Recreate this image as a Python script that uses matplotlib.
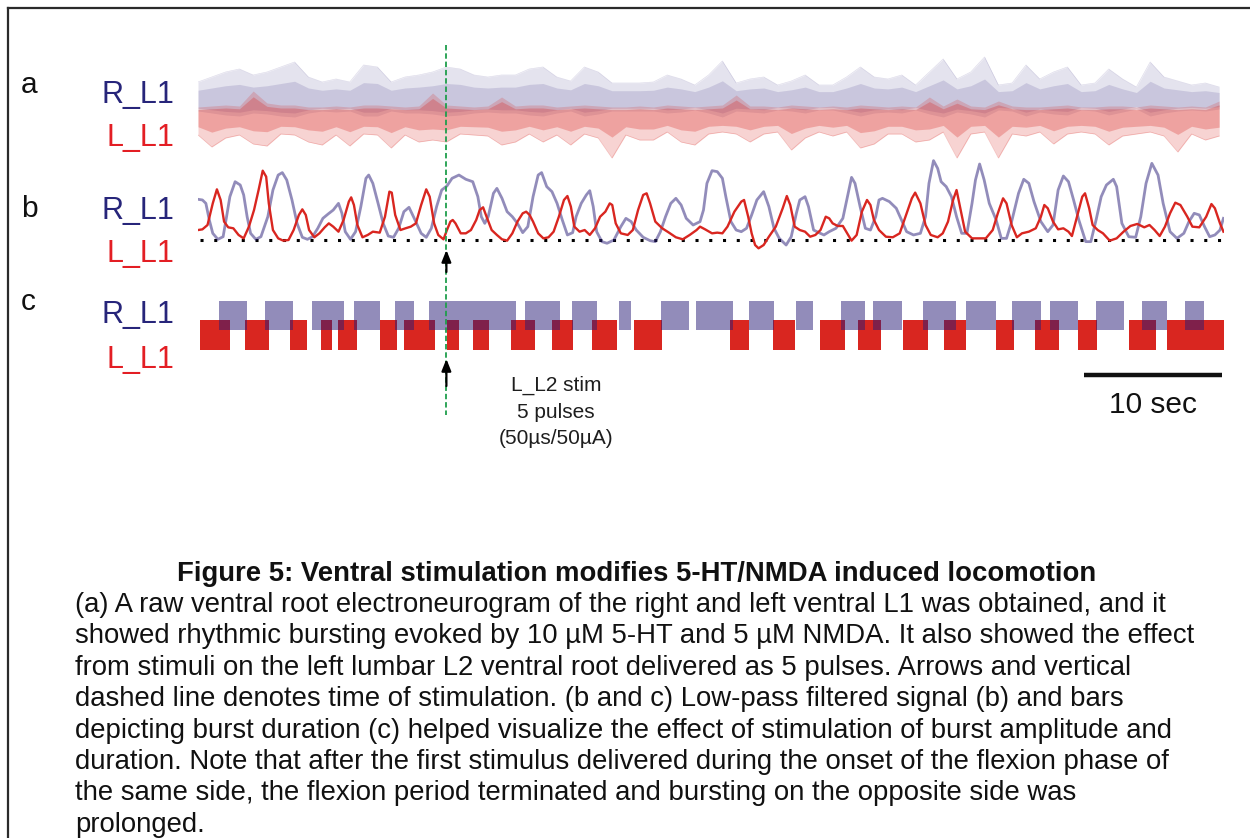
import matplotlib

matplotlib.use("Agg")

import matplotlib.pyplot as plt
import numpy as np
from matplotlib.lines import Line2D


FIG_W = 1250
FIG_H = 838

NAVY = "#271b77"
RED = "#d92620"
LABEL_NAVY = "#27257a"
LABEL_RED = "#e31e24"
STIM_GREEN = "#1f9e4c"

# time axis of all three panels, seconds
T_END = 74.35
STIM_TIME = 18.0
SCALE_BAR = (64.2, 74.2)

# panel a: raw ENG, envelope read per 1 s bin (px above / below trace centre)
RAW_T = np.arange(75)
R_RAW_UP = np.array([
    15, 20, 25, 28, 22, 25, 30, 35, 20, 15, 18, 15, 32, 30, 15,
    20, 22, 25, 30, 28, 22, 20, 22, 22, 28, 30, 20, 16, 30, 25,
    14, 14, 14, 15, 22, 18, 12, 22, 36, 14, 18, 20, 12, 16, 22,
    12, 12, 20, 30, 20, 18, 22, 12, 25, 38, 18, 25, 40, 12, 14,
    32, 18, 25, 30, 12, 14, 28, 18, 10, 35, 20, 16, 12, 14, 10,
])
R_RAW_DN = np.array([
    14, 16, 18, 19, 16, 17, 19, 20, 16, 14, 15, 14, 19, 19, 14,
    16, 16, 17, 19, 18, 16, 15, 16, 16, 18, 19, 16, 14, 19, 17,
    14, 14, 14, 14, 16, 15, 13, 16, 20, 14, 15, 16, 13, 14, 16,
    13, 13, 16, 19, 16, 15, 16, 13, 17, 20, 15, 17, 20, 13, 14,
    19, 15, 17, 18, 13, 14, 18, 15, 12, 19, 16, 14, 13, 14, 12,
])
L_RAW_UP = np.array([
    13, 14, 15, 14, 29, 17, 15, 15, 13, 13, 14, 13, 15, 15, 14,
    13, 14, 27, 15, 14, 13, 14, 23, 14, 15, 15, 13, 14, 15, 14,
    13, 13, 14, 13, 15, 14, 13, 14, 15, 25, 14, 14, 13, 15, 14,
    13, 14, 13, 15, 14, 13, 14, 13, 23, 14, 21, 14, 13, 19, 14,
    13, 13, 14, 15, 13, 13, 14, 14, 13, 15, 14, 13, 14, 13, 19,
])
L_RAW_DN = np.array([
    15, 27, 18, 15, 24, 26, 14, 15, 22, 25, 15, 26, 14, 15, 28,
    15, 22, 20, 22, 14, 15, 16, 25, 22, 14, 22, 15, 25, 14, 18,
    38, 15, 20, 20, 12, 22, 25, 14, 12, 14, 22, 14, 12, 30, 18,
    12, 16, 12, 28, 24, 14, 14, 22, 20, 12, 38, 14, 12, 38, 14,
    16, 12, 24, 14, 12, 14, 25, 16, 14, 12, 16, 32, 14, 20, 16,
])

# panel b: low-pass filtered signals (time s, amplitude a.u.)
R_FILT_T = [
    0.0, 0.32, 0.57, 0.82, 1.07, 1.44, 1.82, 2.07, 2.31, 2.69, 3.06, 3.31,
    3.56, 3.81, 4.19, 4.56, 5.06, 5.43, 5.81, 6.11, 6.43, 6.81, 7.18, 7.56,
    7.93, 8.30, 8.68, 9.05, 9.43, 9.80, 10.18, 10.43, 10.67, 11.05, 11.42,
    11.80, 12.17, 12.37, 12.67, 13.05, 13.42, 13.79, 14.17, 14.54, 14.92,
    15.29, 15.67, 16.17, 16.54, 16.91, 17.29, 17.66, 18.04, 18.41, 18.91,
    19.41, 19.91, 20.28, 20.53, 20.78, 21.03, 21.41, 21.66, 22.03, 22.40,
    22.78, 23.15, 23.53, 23.90, 24.28, 24.65, 24.90, 25.27, 25.65, 26.02,
    26.40, 26.77, 27.15, 27.40, 27.77, 28.14, 28.39, 28.64, 28.89, 29.27,
    29.64, 30.14, 30.64, 31.01, 31.39, 31.76, 32.26, 32.76, 33.14, 33.51,
    33.88, 34.26, 34.63, 35.01, 35.38, 35.88, 36.38, 36.63, 36.88, 37.25,
    37.63, 38.00, 38.25, 38.62, 39.00, 39.37, 39.75, 40.12, 40.50, 40.99,
    41.37, 41.74, 42.12, 42.62, 42.99, 43.36, 43.61, 43.99, 44.24, 44.61,
    44.99, 45.36, 45.74, 46.23, 46.73, 47.11, 47.36, 47.61, 47.98, 48.36,
    48.73, 49.11, 49.35, 49.60, 50.10, 50.60, 50.98, 51.35, 51.85, 52.35,
    52.72, 52.97, 53.30, 53.60, 53.85, 54.22, 54.60, 54.97, 55.34, 55.72,
    56.09, 56.34, 56.64, 56.97, 57.34, 57.84, 58.21, 58.59, 58.96, 59.46,
    59.84, 60.21, 60.58, 61.08, 61.58, 61.96, 62.33, 62.71, 63.08, 63.45,
    63.83, 64.33, 64.70, 65.08, 65.45, 65.83, 66.33, 66.57, 66.95, 67.45,
    67.95, 68.32, 68.70, 69.12, 69.57, 69.94, 70.44, 70.94, 71.44, 71.81,
    72.19, 72.56, 72.94, 73.31, 73.69, 74.06, 74.31,
]
R_FILT = [
    4.21, 4.14, 3.79, 2.07, 0.69, 0.07, 0.34, 2.41, 4.48, 6.03, 5.69, 4.66,
    2.41, 0.69, 0.07, 0.34, 2.41, 5.17, 6.72, 6.97, 6.21, 4.14, 1.72, 0.28,
    0.07, 0.34, 1.21, 2.24, 2.69, 3.10, 3.79, 2.76, 0.86, 0.07, 0.86,
    3.45, 6.38, 6.72, 5.86, 3.79, 1.72, 0.41, 0.28, 1.21, 2.93,
    3.38, 2.24, 0.69, 0.28, 1.21, 3.45, 5.17, 5.59, 6.38, 6.72,
    6.28, 6.03, 4.48, 2.41, 1.72, 2.41, 4.83, 5.34, 4.31, 2.93,
    2.41, 1.72, 0.76, 1.38, 4.48, 6.72, 6.97, 5.52, 5.00, 3.79,
    2.07, 0.52, 0.76, 2.41, 3.79, 4.66, 5.10, 3.45, 0.86, -0.17,
    -0.34, 0.0, 1.38, 2.24, 1.90, 1.03, 0.28, -0.07, -0.17, 0.86,
    2.41, 3.79, 4.31, 3.62, 2.24, 1.55, 1.90, 3.10, 5.86, 7.17,
    7.07, 6.38, 4.48, 1.90, 1.03, 0.86, 1.21, 2.59, 4.14, 5.00,
    3.45, 1.21, 0.17, -0.52, 0.34, 2.76, 4.14, 4.48, 3.45, 1.03,
    0.76, 0.52, 0.86, 1.21, 2.24, 4.83, 6.48, 5.86, 3.45, 1.21,
    1.03, 2.41, 4.14, 4.31, 3.97, 3.28, 2.07, 0.86, 0.52, 0.69,
    2.41, 5.86, 8.21, 7.41, 6.03, 5.52, 4.48, 2.41, 0.69, 0.69,
    3.79, 6.21, 7.86, 6.21, 3.79, 2.07, 0.17, 0.17, 1.90, 4.83,
    6.28, 5.86, 3.97, 1.90, 0.86, 1.55, 5.17, 6.62, 6.03, 4.14,
    2.07, -0.17, -0.17, 2.07, 4.48, 5.69, 6.28, 5.52, 1.72, 0.34,
    0.28, 2.41, 5.86, 7.93, 6.72, 3.79, 0.86, 0.17, 0.69, 1.90,
    2.76, 2.59, 1.38, 0.34, 0.52, 1.03, 2.24,
]
L_FILT_T = [
    0.0, 0.32, 0.69, 1.07, 1.37, 1.64, 1.89, 2.19, 2.56, 2.94, 3.31, 3.69,
    4.06, 4.39, 4.69, 4.94, 5.13, 5.43, 5.81, 6.18, 6.56, 6.93, 7.31, 7.56,
    7.81, 8.05, 8.43, 8.80, 9.18, 9.48, 9.80, 10.18, 10.55, 10.93, 11.10,
    11.30, 11.55, 11.92, 12.30, 12.67, 13.17, 13.55, 13.87, 14.04, 14.29,
    14.67, 15.04, 15.42, 15.79, 16.17, 16.54, 16.79, 17.11, 17.41, 17.79,
    18.04, 18.29, 18.46, 18.66, 19.04, 19.41, 19.78, 20.16, 20.41, 20.66,
    20.91, 21.28, 21.66, 22.03, 22.40, 22.78, 23.15, 23.53, 23.78, 24.03,
    24.28, 24.65, 25.03, 25.40, 25.77, 26.15, 26.52, 26.77, 27.02, 27.27,
    27.65, 28.02, 28.39, 28.77, 29.14, 29.52, 29.84, 30.02, 30.27, 30.64,
    31.14, 31.51, 31.89, 32.26, 32.51, 32.76, 33.14, 33.64, 34.13, 34.63,
    35.13, 35.63, 36.13, 36.38, 36.75, 37.25, 37.63, 38.00, 38.37, 38.87,
    39.37, 39.57, 39.87, 40.12, 40.37, 40.62, 40.99, 41.37, 41.87, 42.37,
    42.67, 42.92, 43.24, 43.61, 43.99, 44.36, 44.74, 45.11, 45.49, 45.74,
    45.99, 46.36, 46.73, 47.11, 47.36, 47.73, 48.11, 48.48, 48.73, 48.98,
    49.35, 49.85, 50.35, 50.85, 51.35, 51.73, 51.97, 52.35, 52.72, 53.10,
    53.60, 53.97, 54.35, 54.72, 54.97, 55.22, 55.59, 56.09, 56.59, 57.09,
    57.59, 57.96, 58.34, 58.59, 58.96, 59.34, 59.71, 60.21, 60.71, 61.08,
    61.33, 61.58, 61.96, 62.33, 62.71, 63.08, 63.33, 63.70, 64.08, 64.28,
    64.58, 64.83, 65.20, 65.58, 66.07, 66.57, 67.07, 67.57, 68.07, 68.57,
    68.95, 69.32, 69.69, 70.07, 70.44, 70.82, 71.19, 71.69, 72.06, 72.56,
    73.06, 73.44, 73.69, 74.06, 74.31,
]
L_FILT = [
    1.03, 1.10, 1.55, 3.79, 5.24, 4.14, 1.90, 1.31, 1.21, 0.52, 0.17, 1.38,
    3.10, 5.17, 7.17, 6.55, 3.79, 1.03, 0.17, -0.07, 0.0, 1.03, 2.59, 3.17,
    2.59, 1.03, 0.28, 0.69, 1.31, 1.72, 1.38, 0.86, 2.07, 3.97, 4.41,
    3.62, 1.55, 0.28, 0.52, 0.86, 0.76, 2.41, 5.00, 4.90, 2.59,
    1.03, 1.21, 1.38, 1.72, 3.62, 5.24, 4.48, 1.72, 0.52, 0.07,
    1.03, 1.90, 2.07, 1.72, 0.69, 0.69, 1.03, 2.07, 3.10, 3.38,
    2.41, 1.03, 0.52, 0.07, -0.07, 0.69, 1.90, 2.76, 2.93, 2.59,
    1.90, 0.69, 0.17, 0.28, 0.86, 2.41, 4.14, 4.55, 3.45, 1.38,
    0.86, 1.03, 0.52, 1.21, 2.41, 2.93, 3.79, 3.62, 1.72, 0.69,
    0.52, 1.03, 3.10, 4.66, 4.83, 3.79, 1.90, 1.21, 0.76, 0.28,
    0.07, 0.52, 1.03, 1.38, 1.10, 0.69, 0.76, 0.69, 1.38, 2.93,
    3.97, 4.14, 2.41, 0.69, -0.52, -0.86, -0.52, 0.34, 1.38, 3.28,
    4.55, 3.62, 1.38, 1.03, 0.86, 0.34, 0.52, 1.03, 2.41, 2.24,
    1.72, 1.45, 1.45, 0.52, -0.07, 0.52, 2.93, 4.14, 3.62, 2.07,
    1.03, 0.34, 0.28, 0.69, 2.76, 4.31, 4.90, 3.79, 1.55, 0.52,
    0.28, 0.69, 1.90, 4.14, 5.17, 3.45, 0.86, 0.17, 0.17, 0.17,
    1.03, 2.76, 4.31, 3.79, 1.55, 0.28, 0.69, 0.86, 1.21, 2.41,
    3.62, 3.28, 1.90, 1.10, 1.21, 0.86, 0.41, 2.41, 4.48, 4.83,
    3.28, 1.55, 1.03, 0.69, -0.07, 0.17, 0.86, 1.45, 1.66, 1.31,
    1.55, 1.03, 0.41, 1.38, 2.76, 3.86, 3.62, 2.41, 1.38, 1.31,
    2.41, 3.72, 3.28, 1.72, 0.86,
]

# panel c: burst durations (start s, end s)
R_BURSTS = [
    (1.51, 3.54), (4.83, 6.86), (8.28, 10.55), (11.30, 13.20),
    (14.29, 15.67), (16.71, 23.03), (23.67, 26.22), (27.07, 28.89),
    (30.51, 31.36), (33.54, 35.58), (36.08, 38.75), (39.92, 41.74),
    (43.31, 44.54), (46.56, 48.30), (48.91, 51.05), (52.52, 54.92),
    (55.64, 57.81), (58.96, 61.06), (61.73, 63.75), (65.07, 67.07),
    (68.39, 70.22), (71.51, 72.88),
]
L_BURSTS = [
    (0.14, 2.34), (3.43, 5.14), (6.68, 7.91), (8.88, 9.70),
    (10.15, 11.50), (13.17, 14.39), (14.94, 17.14), (18.04, 18.91),
    (19.91, 21.06), (22.65, 24.40), (25.67, 27.20), (28.57, 30.34),
    (31.59, 33.61), (38.52, 39.94), (41.64, 43.29), (45.09, 46.86),
    (47.83, 49.48), (51.12, 52.92), (54.04, 55.64), (57.81, 59.14),
    (60.66, 62.36), (63.75, 65.15), (67.45, 69.39), (70.24, 74.36),
]

PANEL_LETTERS = ["a", "b", "c"]
CHANNELS = ["R_L1", "L_L1"]
STIM_LINES = ["L_L2 stim", "5 pulses", "(50\u00b5s/50\u00b5A)"]
SCALE_LABEL = "10 sec"

TITLE = "Figure 5: Ventral stimulation modifies 5-HT/NMDA induced locomotion"
CAPTION_LINES = [
    "(a) A raw ventral root electroneurogram of the right and left ventral L1 was obtained, and it",
    "showed rhythmic bursting evoked by 10 \u00b5M 5-HT and 5 \u00b5M NMDA. It also showed the effect",
    "from stimuli on the left lumbar L2 ventral root delivered as 5 pulses. Arrows and vertical",
    "dashed line denotes time of stimulation. (b and c) Low-pass filtered signal (b) and bars",
    "depicting burst duration (c) helped visualize the effect of stimulation of burst amplitude and",
    "duration. Note that after the first stimulus delivered during the onset of the flexion phase of",
    "the same side, the flexion period terminated and bursting on the opposite side was",
    "prolonged.",
]


def fx(x):
    return x / FIG_W


def fy(y):
    return 1 - y / FIG_H


def panel_axes(fig, top, bottom):
    ax = fig.add_axes([fx(198), fy(bottom), fx(1224) - fx(198), (bottom - top) / FIG_H])
    ax.set_xlim(0, T_END)
    ax.axis("off")
    return ax


def draw_raw(ax):
    r_centre = 73
    l_centre = 50
    ax.set_ylim(0, 130)
    ax.fill_between(RAW_T, r_centre - R_RAW_DN, r_centre + R_RAW_UP,
                    color=NAVY, alpha=0.12, lw=0)
    ax.fill_between(RAW_T, r_centre - R_RAW_DN * 0.8, r_centre + R_RAW_UP * 0.45,
                    color=NAVY, alpha=0.14, lw=0)
    ax.plot(RAW_T, r_centre + R_RAW_UP, color=NAVY, alpha=0.15, lw=0.5)

    ax.fill_between(RAW_T, l_centre - L_RAW_DN, l_centre + L_RAW_UP,
                    color=RED, alpha=0.2, lw=0)
    ax.fill_between(RAW_T, l_centre - L_RAW_DN * 0.45, l_centre + L_RAW_UP * 0.8,
                    color=RED, alpha=0.28, lw=0)
    ax.plot(RAW_T, l_centre - L_RAW_DN, color=RED, alpha=0.25, lw=0.5)


def draw_filtered(ax):
    ax.set_ylim(-2.07, 9.31)
    ax.hlines(0, 0.15, 74.2, colors="black", linestyles=(0, (1, 3.5)), lw=2.2)
    ax.plot(R_FILT_T, R_FILT, color=NAVY, alpha=0.5, lw=2.0, solid_joinstyle="round")
    ax.plot(L_FILT_T, L_FILT, color=RED, lw=1.7, solid_joinstyle="round")


def draw_bursts(ax):
    ax.set_ylim(0, 60)
    ax.broken_barh([(s, e - s) for s, e in L_BURSTS], (5.3, 29.2),
                   facecolors=RED, lw=0)
    ax.broken_barh([(s, e - s) for s, e in R_BURSTS], (25, 29),
                   facecolors=NAVY, alpha=0.5, lw=0)


def main():
    fig = plt.figure(figsize=(FIG_W / 100, FIG_H / 100), dpi=100)
    plt.rcParams["font.family"] = ["Liberation Sans", "DejaVu Sans"]

    # page border (top and left edge of the figure box)
    fig.add_artist(Line2D([fx(8), 1], [fy(8), fy(8)], color="#2b2b2b", lw=1.6))
    fig.add_artist(Line2D([fx(8), fx(8)], [fy(8), 0], color="#2b2b2b", lw=1.6))

    ax_a = panel_axes(fig, 40, 170)
    ax_b = panel_axes(fig, 150, 260)
    ax_c = panel_axes(fig, 295, 355)
    draw_raw(ax_a)
    draw_filtered(ax_b)
    draw_bursts(ax_c)

    # overlay: stimulus line, arrows and scale bar (y in figure pixels)
    ax_ov = fig.add_axes([fx(198), 0, fx(1224) - fx(198), 1])
    ax_ov.set_xlim(0, T_END)
    ax_ov.set_ylim(FIG_H, 0)
    ax_ov.axis("off")
    ax_ov.vlines(STIM_TIME, 45, 415, colors=STIM_GREEN, lw=1.3,
                 linestyles=(0, (3, 1.6)))
    for y_tail, y_head in [(272, 250), (386, 359)]:
        ax_ov.annotate("", xy=(STIM_TIME, y_head), xytext=(STIM_TIME, y_tail),
                       arrowprops=dict(arrowstyle="-|>,head_length=0.7,head_width=0.28",
                                       color="black", lw=1.6, shrinkA=0, shrinkB=0))
    ax_ov.hlines(375.5, SCALE_BAR[0], SCALE_BAR[1], colors="#111111", lw=3.2)
    ax_ov.text(sum(SCALE_BAR) / 2, 413, SCALE_LABEL, ha="center", va="baseline",
               fontsize=21.5, color="#111111")

    for i, line in enumerate(STIM_LINES):
        fig.text(fx(556), fy(391 + 26.5 * i), line, ha="center", va="baseline",
                 fontsize=15, color="#1e1e1e")

    # panel letters and channel labels
    letter_base = [93, 217, 310]
    channel_base = [(103, 146), (219, 262), (323, 368)]
    for letter, yb, (yr, yl) in zip(PANEL_LETTERS, letter_base, channel_base):
        fig.text(fx(21), fy(yb), letter, ha="left", va="baseline",
                 fontsize=21.5, color="#111111")
        fig.text(fx(174), fy(yr), CHANNELS[0], ha="right", va="baseline",
                 fontsize=22, color=LABEL_NAVY)
        fig.text(fx(174), fy(yl), CHANNELS[1], ha="right", va="baseline",
                 fontsize=22, color=LABEL_RED)

    # caption
    fig.text(fx(637), fy(581), TITLE, ha="center", va="baseline",
             fontsize=19.8, fontweight="bold", color="#111111")
    for i, line in enumerate(CAPTION_LINES):
        fig.text(fx(75), fy(612 + 31.4 * i), line, ha="left", va="baseline",
                 fontsize=19.8, color="#111111")

    fig.savefig("out.png", dpi=100)
    plt.close(fig)


if __name__ == "__main__":
    main()
